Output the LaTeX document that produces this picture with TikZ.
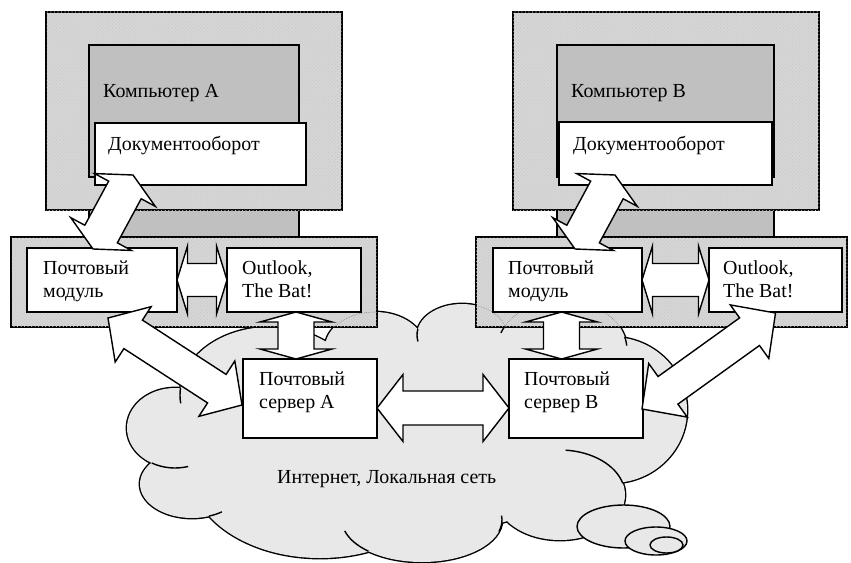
\documentclass[tikz,border=0pt]{standalone}
\usepackage{fontspec}
\setmainfont{Liberation Serif}
\usetikzlibrary{calc,patterns}

\definecolor{caseGray}{RGB}{214,214,214}
\definecolor{screenGray}{RGB}{192,192,192}
\definecolor{cloudGray}{RGB}{232,232,232}

\tikzset{
	frame/.style 2 args={shape=rectangle, draw, line width=1.2pt, anchor=north west, inner sep=0pt, outer sep=0pt, minimum width=#1*0.03cm, minimum height=#2*0.03cm},
	casefill/.style={fill=caseGray, postaction={pattern=crosshatch dots, pattern color=black!22}},
	txt/.style={anchor=base west, inner sep=0pt, align=left, font=\fontsize{17}{19.6}\selectfont},
	blockarr/.style={draw, fill=white, line width=1.2pt, line join=miter},
	cloudline/.style={draw, line width=1.2pt},
	cloudhidden/.style={draw=black!55, line width=0.5pt, densely dotted},
}

% cloud = union of bumps
\newcommand\cloudbumps{(270,395) ellipse [x radius=90, y radius=68]
	(375,348) ellipse [x radius=50, y radius=36]
	(462,335) ellipse [x radius=45, y radius=31]
	(562,350) ellipse [x radius=65, y radius=50]
	(612,410) ellipse [x radius=75, y radius=73]
	(560,495) ellipse [x radius=65, y radius=45]
	(422,520) ellipse [x radius=80, y radius=42]
	(320,470) ellipse [x radius=130, y radius=88]
	(192,484) ellipse [x radius=52, y radius=34]
	(175,428) ellipse [x radius=48, y radius=40]
	(490,370) ellipse [x radius=30, y radius=20]
	(400,440) ellipse [x radius=200, y radius=96]}

% two-headed block arrow: from, to, head length, head half width, shaft half width
\newcommand\blockarrow[5]{%
	\coordinate (ba1) at ($(#1)!#3*0.03cm!(#2)$);
	\coordinate (ba2) at ($(#2)!#3*0.03cm!(#1)$);
	\draw[blockarr] (#1) -- ($(ba1)!#4*0.03cm!90:(#2)$) -- ($(ba1)!#5*0.03cm!90:(#2)$)
		-- ($(ba2)!#5*0.03cm!-90:(#1)$) -- ($(ba2)!#4*0.03cm!-90:(#1)$) -- (#2)
		-- ($(ba2)!#4*0.03cm!90:(#1)$) -- ($(ba2)!#5*0.03cm!90:(#1)$)
		-- ($(ba1)!#5*0.03cm!-90:(#2)$) -- ($(ba1)!#4*0.03cm!-90:(#2)$) -- cycle;}

\begin{document}
\begin{tikzpicture}[x=0.03cm, y=-0.03cm]
	\useasboundingbox (0,0) rectangle (851,562);
	% Computer A:
	\node[frame={210}{27}, fill=screenGray] (standA) at (89,210) {};
	\node[frame={296}{198}, casefill] (monA) at (46,12) {};
	\node[frame={210}{132}, fill=screenGray] (scrA) at (89,45) {};
	\node[txt] (tScrA) at ($(scrA.north west)+(14,52)$) {Компьютер А};
	\node[frame={211}{62}, fill=white] (docA) at (95,123) {};
	\node[txt] (tDocA) at ($(docA.north west)+(13,27)$) {Документооборот};
	% Computer B:
	\node[frame={217}{27}, fill=screenGray] (standB) at (557,210) {};
	\node[frame={306}{198}, casefill] (monB) at (513,12) {};
	\node[frame={217}{132}, fill=screenGray] (scrB) at (557,45) {};
	\node[txt] (tScrB) at ($(scrB.north west)+(14,52)$) {Компьютер В};
	\node[frame={213}{63}, fill=white] (docB) at (559,122) {};
	\node[txt] (tDocB) at ($(docB.north west)+(14,28)$) {Документооборот};
	% Cloud:
	\draw[line width=2.4pt] \cloudbumps;
	\fill[cloudGray] \cloudbumps;
	\draw[cloudline] ([shift={(186:90 and 68)}]270,395) arc[start angle=186, end angle=173, x radius=90, y radius=68];
	\draw[cloudline] ([shift={(119:48 and 40)}]175,428) arc[start angle=119, end angle=74, x radius=48, y radius=40];
	\draw[cloudline] ([shift={(71:52 and 34)}]192,484) arc[start angle=71, end angle=55, x radius=52, y radius=34];
	\draw[cloudline] ([shift={(132:80 and 42)}]422,520) arc[start angle=132, end angle=165, x radius=80, y radius=42];
	\draw[cloudline] ([shift={(-6:80 and 42)}]422,520) arc[start angle=-6, end angle=16, x radius=80, y radius=42];
	\draw[cloudline] ([shift={(-15:65 and 45)}]560,495) arc[start angle=-15, end angle=-85, x radius=65, y radius=45];
	\draw[cloudline] ([shift={(-15:65 and 50)}]562,350) arc[start angle=-15, end angle=-5, x radius=65, y radius=50];
	\draw[cloudline] ([shift={(208:65 and 50)}]562,350) arc[start angle=208, end angle=200, x radius=65, y radius=50];
	\draw[cloudline] ([shift={(191:45 and 31)}]462,335) arc[start angle=191, end angle=168, x radius=45, y radius=31];
	\node[txt] (tNet) at (277,483) {Интернет, Локальная сеть};
	\draw[cloudline, fill=cloudGray] (623.5,526.5) ellipse [x radius=46.5, y radius=21.5];
	\draw[cloudline, fill=cloudGray] (656,541) ellipse [x radius=31, y radius=14];
	\draw[cloudline, fill=cloudGray] (666.5,545) ellipse [x radius=16.5, y radius=8];
	% Mail bars:
	\node[frame={366}{90}, casefill] (barA) at (11,237) {};
	\node[frame={371}{90}, casefill] (barB) at (476,237) {};
	\begin{scope}
		\clip (barA.north west) rectangle (barA.south east) (barB.north west) rectangle (barB.south east);
		\draw[cloudhidden] \cloudbumps;
	\end{scope}
	\node[frame={150}{64}, fill=white] (modA) at (27,248) {};
	\node[txt] (tModA) at ($(modA.north west)+(16,49)$) {Почтовый\\модуль};
	\node[frame={134}{64}, fill=white] (outA) at (227,248) {};
	\node[txt] (tOutA) at ($(outA.north west)+(15,49)$) {Outlook,\\The Bat!};
	\node[frame={149}{64}, fill=white] (modB) at (493,248) {};
	\node[txt] (tModB) at ($(modB.north west)+(15,49)$) {Почтовый\\модуль};
	\node[frame={133}{64}, fill=white] (outB) at (709,248) {};
	\node[txt] (tOutB) at ($(outB.north west)+(14,49)$) {Outlook,\\The Bat!};
	% Servers:
	\node[frame={134}{79}, fill=white] (srvA) at (243,359) {};
	\node[txt] (tSrvA) at ($(srvA.north west)+(16,49)$) {Почтовый\\сервер А};
	\node[frame={134}{79}, fill=white] (srvB) at (509,359) {};
	\node[txt] (tSrvB) at ($(srvB.north west)+(15,49)$) {Почтовый\\сервер В};
	% Arrows:
	\coordinate (docEndA) at ($(docA.south west)+(38,-10)$);
	\coordinate (modEndA) at ($(modA.north west)+(66,1)$);
	\blockarrow{modEndA}{docEndA}{17}{34.5}{18.5}
	\coordinate (docEndB) at ($(docB.south west)+(56,-10)$);
	\coordinate (modEndB) at ($(modB.north west)+(82,1)$);
	\blockarrow{modEndB}{docEndB}{17}{34.5}{18.5}
	\blockarrow{modA.east}{outA.west}{10.5}{34}{16.5}
	\blockarrow{modB.east}{outB.west}{10.5}{34}{16.5}
	\coordinate (outEndA) at ($(outA.south)+(2,0)$);
	\coordinate (srvEndA) at (outEndA |- srvA.north);
	\blockarrow{outEndA}{srvEndA}{10}{36}{18}
	\coordinate (modEndB2) at ($(modB.south)+(-6,0)$);
	\coordinate (srvEndB) at (modEndB2 |- srvB.north);
	\blockarrow{modEndB2}{srvEndB}{10}{36}{18}
	\coordinate (srvSideA) at ($(srvA.east)+(0,9.5)$);
	\coordinate (srvSideB) at ($(srvB.west)+(0,9.5)$);
	\blockarrow{srvSideA}{srvSideB}{26}{33.5}{17}
	\coordinate (modEndA2) at ($(modA.south)+(6,6)$);
	\coordinate (srvLeftA) at ($(srvA.west)+(-1,6.5)$);
	\blockarrow{modEndA2}{srvLeftA}{30}{33}{17}
	\coordinate (srvRightB) at ($(srvB.east)+(-1,10.5)$);
	\coordinate (outEndB) at ($(outB.south)+(0,1)$);
	\blockarrow{srvRightB}{outEndB}{32}{33}{17}
\end{tikzpicture}
\end{document}
